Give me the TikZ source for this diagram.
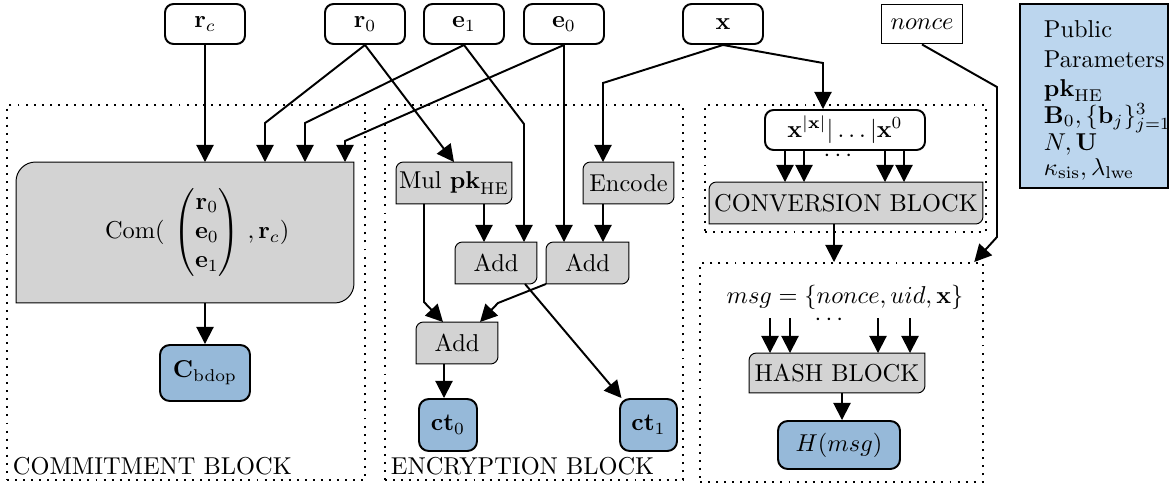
\documentclass[tikz,border=0pt]{standalone}
\usepackage{amsmath}
\usetikzlibrary{arrows.meta,backgrounds}

\definecolor{opgray}{RGB}{211,211,211}
\definecolor{outblue}{RGB}{150,185,217}
\definecolor{ppblue}{RGB}{188,214,238}

\tikzset{every picture/.style={line width=0.8pt}}
\tikzset{
  boxsize/.style 2 args={minimum width=#1*0.41pt, minimum height=#2*0.41pt},
  input/.style={draw, rounded corners=3.5pt, fill=white, inner sep=0pt},
  output/.style={draw, rounded corners=4pt, fill=outblue, inner sep=0pt},
  opnode/.style={inner sep=0pt},
  opfill/.style={draw, fill=opgray},
  blockframe/.style={draw, dash pattern=on 0.8pt off 2.5pt, inner sep=0pt},
  arr/.style={-{Triangle[length=7pt,width=7pt]}},
}

\begin{document}
\begin{tikzpicture}[x=0.41pt,y=-0.41pt]
\useasboundingbox (0,0) rectangle (1172,485);

% dotted blocks
\node[blockframe, boxsize={358}{375}] (cmtblk) at (186,292.5) {};
\node[blockframe, boxsize={298}{375}] (encblk) at (534,292.5) {};
\node[blockframe, boxsize={281}{127}] (convblk) at (845.5,168.5) {};
\node[blockframe, boxsize={283}{219}] (hashblk) at (841.5,372.5) {};
\node[anchor=base west, inner sep=0pt] (cmtlbl) at (12,474) {COMMITMENT BLOCK};
\node[anchor=base west, inner sep=0pt] (enclbl) at (390,474) {ENCRYPTION BLOCK};

% inputs
\node[input, boxsize={80}{40}] (rc) at (205,24) {$\mathbf{r}_c$};
\node[input, boxsize={80}{40}] (r0) at (365,24) {$\mathbf{r}_0$};
\node[input, boxsize={80}{40}] (e1) at (464,24) {$\mathbf{e}_1$};
\node[input, boxsize={80}{40}] (e0) at (564,24) {$\mathbf{e}_0$};
\node[input, boxsize={80}{40}] (x) at (723,24) {$\mathbf{x}$};
\node[draw, fill=white, inner sep=0pt, boxsize={81}{39}] (nonce) at (922,24) {$nonce$};

% public parameters, one line per node
\node[draw, fill=ppblue, boxsize={148}{184}] (pp) at (1094,96) {};
\foreach \yy/\txt [count=\i] in {37/Public, 67/Parameters, 96/{$\mathbf{pk}_{\mathrm{HE}}$},
    123/{$\mathbf{B}_0, \{\mathbf{b}_j\}_{j=1}^3$}, 150/{$N, \mathbf{U}$},
    175/{$\kappa_{\mathrm{sis}}, \lambda_{\mathrm{lwe}}$}}
  \node[anchor=base west, inner sep=0pt] (pp-\i) at (1043,\yy) {\txt};

% operations
\node[opnode, boxsize={336}{139}] (com) at (185,232.5)
  {\hspace*{10pt}Com(\hspace{3.7pt}$\begin{pmatrix}\mathbf{r}_0\\ \mathbf{e}_0\\ \mathbf{e}_1\end{pmatrix}$\hspace{3pt}$,\mathbf{r}_c$)};
\node[opnode, boxsize={114}{40}] (mul) at (454,183) {Mul $\mathbf{pk}_{\mathrm{HE}}$};
\node[opnode, boxsize={89}{40}] (enc) at (628.5,183) {Encode};
\node[opnode, boxsize={80}{40}] (add1) at (496,263) {Add};
\node[opnode, boxsize={81}{40}] (add2) at (587.5,263) {Add};
\node[opnode, boxsize={80}{40}] (add3) at (457,343) {Add};
\node[opnode, boxsize={272}{40}] (conv) at (846,203) {CONVERSION BLOCK};
\node[opnode, boxsize={174}{38}] (hash) at (837,373) {HASH BLOCK};

\begin{scope}[on background layer]
\foreach \n/\r in {com/8pt,mul/3pt,enc/3pt,add1/3pt,add2/3pt,add3/3pt,conv/3pt,hash/3pt}
  \path[opfill] (\n.west) [rounded corners=\r] -- (\n.north west) -- (\n.north) [sharp corners]
    -- (\n.north east) -- (\n.east) [rounded corners=\r] -- (\n.south east) -- (\n.south) [sharp corners]
    -- (\n.south west) -- cycle;
\end{scope}

% vector and message
\node[input, boxsize={160}{40}] (vec) at (845,130) {$\mathbf{x}^{|\mathbf{x}|}|\ldots|\mathbf{x}^{0}$};
\node[inner sep=0pt] (vecdots) at (840,156) {$\cdots$};
\node (msg) at (845,297) {$msg = \{nonce, uid, \mathbf{x}\}$};
\node[inner sep=0pt] (msgdots) at (831,320) {$\cdots$};

% outputs
\node[output, boxsize={90}{56}] (cb) at (205,373) {$\mathbf{C}_{\mathrm{bdop}}$};
\node[output, boxsize={58}{52}] (ct0) at (448,425) {$\mathbf{ct}_0$};
\node[output, boxsize={57}{52}] (ct1) at (648.5,425) {$\mathbf{ct}_1$};
\node[output, boxsize={122}{48}] (hmsg) at (839,445) {$H(msg)$};

% commitment
\draw[arr] (rc.south) -- (rc.south |- com.north);
\draw[arr] (r0.south) -- (265,123) -- (265,123 |- com.north);
\draw[arr] (e1.south) -- (305,123) -- (305,123 |- com.north);
\draw[arr] (e0.south) -- (345,141) -- (345,141 |- com.north);
\draw[arr] (cb.north |- com.south) -- (cb.north);

% encryption
\draw[arr] (r0.south) -- (mul.north);
\draw[arr] (e1.south) -- (524,124) -- (524,124 |- add1.north);
\draw[arr] (e0.south) -- (e0.south |- add2.north);
\draw[arr] (x.south) -- (603,83) -- (603,83 |- enc.north);
\draw[arr] (484,0 |- mul.south) -- (484,0 |- add1.north);
\draw[arr] (603,0 |- enc.south) -- (603,0 |- add2.north);
\draw[arr] (424,0 |- mul.south) -- (424,302) -- (443,0 |- add3.north);
\draw[arr] (add2.south west) -- (498,303) -- (480,0 |- add3.north);
\draw[arr] (525,0 |- add1.south) -- ([xshift=1pt]ct1.north west);
\draw[arr] (444,0 |- add3.south) -- (444,0 |- ct0.north);

% conversion and hashing
\draw[arr] (x.south) -- (823,63) -- (823,0 |- vec.north);
\foreach \px in {785,804,885,904}
  \draw[arr] (\px,0 |- vec.south) -- (\px,0 |- conv.north);
\draw[arr] (834,0 |- conv.south) -- (834,0 |- hashblk.north);
\draw[arr] (nonce.south) -- (997,87) -- (997,237) -- ([xshift=-4pt]hashblk.north east);
\foreach \px in {770,790,878,910}
  \draw[arr] (\px,0 |- msg.south) -- (\px,0 |- hash.north);
\draw[arr] (842,0 |- hash.south) -- (842,0 |- hmsg.north);

\end{tikzpicture}
\end{document}
